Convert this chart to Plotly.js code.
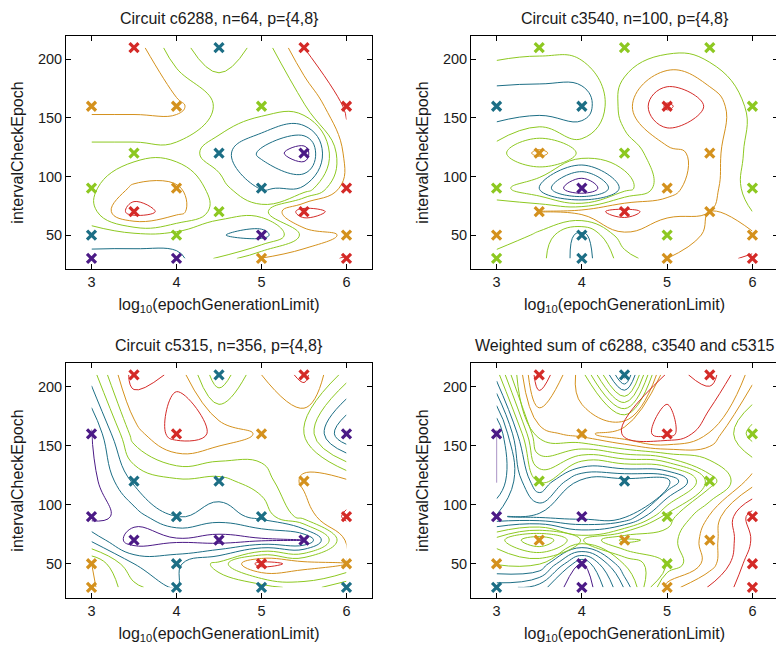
<!DOCTYPE html>
<html><head><meta charset="utf-8">
<script src="https://cdn.plot.ly/plotly-3.0.1.min.js"></script>
<style>html,body{margin:0;padding:0;overflow:hidden;background:#fff}#chart{width:780px;height:645px}</style>
</head><body><div id="chart"></div>
<script>
// grid of the fitted surface
const gridX = [3, 3.5, 4, 4.5, 5, 5.5, 6];
const gridY = [30, 50, 70, 90, 120, 160, 210];

// design points (markers)
const designX = [3,3,3,3, 3.5,3.5,3.5, 4,4,4,4, 4.5,4.5,4.5, 5,5,5,5, 5.5,5.5,5.5, 6,6,6,6];
const designY = [30,50,90,160, 70,120,210, 30,50,90,160, 70,120,210, 30,50,90,160, 70,120,210, 30,50,90,160];

const panelTitles = ["Circuit c6288, n=64, p={4,8}", "Circuit c3540, n=100, p={4,8}",
                     "Circuit c5315, n=356, p={4,8}", "Weighted sum of c6288, c3540 and c5315"];
const xTitle = "log<sub>10</sub>(epochGenerationLimit)";
const yTitle = "intervalCheckEpoch";
const xTicks = [3, 4, 5, 6];
const yTicks = [50, 100, 150, 200];

// marker classes: 1 purple, 2 teal, 3 green, 4 orange, 5 red
const classC6288 = [1,2,3,4, 5,3,5, 1,3,4,4, 3,2,2, 4,1,2,3, 5,1,5, 5,4,5,5];
const classC3540 = [3,4,3,2, 4,4,3, 2,2,1,2, 5,3,3, 4,3,4,5, 4,4,3, 5,4,3,3];
const classC5315 = [4,4,1,1, 1,2,5, 2,2,2,5, 1,2,2, 2,5,2,4, 1,4,5, 2,4,5,1];
const classSum   = [2,4,1,1, 4,3,5, 1,1,1,4, 4,2,2, 4,3,3,5, 4,3,5, 5,5,5,3];

// surface values, rows = gridY, cols = gridX
const surfC6288 = [
  [2.6, 2.5, 2.7, 4.2, 6.1, 6.5, 7.1],
  [3.6, 3.7, 3.6, 3.1, 2.5, 5.3, 6.2],
  [4.6, 7.6, 6.4, 4.5, 4.5, 7.6, 6.4],
  [4.8, 6.2, 6.2, 4.4, 2.9, 3.2, 6.6],
  [4.6, 4.6, 4.6, 3.5, 1.8, 0.3, 6.5],
  [6.3, 6.3, 6.3, 4.8, 4.6, 4.9, 7.2],
  [6.5, 6.6, 4.3, 3.4, 4.3, 7.0, 7.6]
];
const surfC3540 = [
  [4.5, 4.3, 2.5, 4.5, 6.0, 6.6, 7.2],
  [5.8, 4.8, 2.6, 5.8, 5.2, 6.2, 6.2],
  [5.5, 6.0, 6.5, 7.4, 6.3, 6.0, 5.0],
  [4.5, 3.0, -0.5, 3.5, 5.8, 6.4, 4.5],
  [4.6, 6.3, 4.8, 4.5, 5.6, 6.5, 4.6],
  [2.2, 2.2, 2.2, 5.5, 8.2, 6.8, 4.6],
  [4.5, 4.3, 4.5, 4.5, 4.6, 4.4, 4.3]
];
const surfC5315 = [
  [6.2, 4.3, 3.0, 3.5, 3.5, 4.5, 3.3],
  [6.1, 3.0, 2.8, 4.3, 7.5, 6.5, 6.0],
  [2.8, 0.4, 0.8, 0.5, 0.8, 0.8, 6.2],
  [0.6, 1.5, 3.1, 2.5, 3.3, 5.5, 7.2],
  [0.6, 3.2, 3.8, 3.7, 4.5, 6.2, 6.2],
  [0.8, 5.5, 7.5, 6.8, 5.8, 5.0, 0.8],
  [3.5, 7.5, 6.8, 3.2, 6.0, 7.3, 4.5]
];
const surfSum = [
  [2.5, 2.0, 0.7, 2.8, 6.0, 6.8, 7.6],
  [3.8, 3.8, 1.2, 3.8, 4.8, 6.0, 7.6],
  [4.5, 5.8, 4.2, 5.4, 5.0, 6.0, 7.3],
  [2.3, 2.1, 2.0, 2.1, 4.5, 5.8, 7.5],
  [1.2, 3.8, 2.1, 2.0, 2.1, 4.5, 6.0],
  [1.1, 5.5, 6.0, 6.8, 7.5, 6.2, 4.5],
  [3.5, 7.2, 5.5, 2.0, 7.0, 7.5, 6.0]
];

const palette = ["#4b1a86", "#1c6e85", "#8dc821", "#d4911d", "#d42a27"];
const scale = [[0, palette[0]], [0.125, palette[0]], [0.125, palette[1]], [0.375, palette[1]],
               [0.375, palette[2]], [0.625, palette[2]], [0.625, palette[3]], [0.75, palette[3]],
               [0.75, palette[4]], [1, palette[4]]];

const surfaces = [surfC6288, surfC3540, surfC5315, surfSum];
const classes = [classC6288, classC3540, classC5315, classSum];
const levelSteps = [1, 1, 1, 0.5];

const W = 780, H = 645;
const colDom = [[66 / W, 372 / W], [471 / W, 778 / W]];
const rowDom = [[(H - 269) / H, (H - 36) / H], [(H - 598) / H, (H - 363) / H]];

const traces = [];
const layout = {
  width: W, height: H, margin: {l: 0, r: 0, t: 0, b: 0},
  paper_bgcolor: "#fff", plot_bgcolor: "#fff", showlegend: false,
  font: {family: "Liberation Sans, Arial, sans-serif", color: "#1a1a1a"},
  annotations: []
};

for (let i = 0; i < 4; i++) {
  const sfx = i === 0 ? "" : String(i + 1);
  const xa = "x" + sfx, ya = "y" + sfx;
  const col = i % 2, row = Math.floor(i / 2);
  const st = levelSteps[i];
  traces.push({
    type: "contour", x: gridX, y: gridY, z: surfaces[i], xaxis: xa, yaxis: ya,
    zauto: false, zmin: 0.5, zmax: 8.5, colorscale: scale, showscale: false,
    autocontour: false,
    contours: {coloring: "lines", start: st === 1 ? 1 : 0.75, end: 8.25, size: st, showlabels: false},
    line: {width: 1, smoothing: 1.3}, hoverinfo: "skip"
  });
  const cols = classes[i].map(c => palette[c - 1]);
  traces.push({
    type: "scatter", mode: "markers", x: designX, y: designY, xaxis: xa, yaxis: ya,
    marker: {symbol: "x-thin", size: 9, color: cols, line: {width: 3.2, color: cols}},
    hoverinfo: "skip"
  });
  const axCommon = {
    showline: true, linecolor: "#000", linewidth: 1, mirror: "ticks",
    ticks: "inside", ticklen: 5, tickwidth: 1, tickcolor: "#000",
    showgrid: false, zeroline: false, tickfont: {size: 14.5, color: "#1a1a1a"}
  };
  layout["xaxis" + sfx] = Object.assign({}, axCommon, {
    domain: colDom[col], anchor: ya, range: [2.7, 6.3], tickvals: xTicks,
    title: {text: xTitle, font: {size: 16, color: "#1a1a1a"}, standoff: 9}
  });
  layout["yaxis" + sfx] = Object.assign({}, axCommon, {
    domain: rowDom[row], anchor: xa, range: [21, 220], tickvals: yTicks,
    title: {text: yTitle, font: {size: 16, color: "#1a1a1a"}, standoff: 10}
  });
  layout.annotations.push({
    text: panelTitles[i], xref: "paper", yref: "paper", showarrow: false,
    x: (colDom[col][0] + colDom[col][1]) / 2, y: rowDom[row][1],
    xanchor: "center", yanchor: "bottom", yshift: 7,
    font: {size: 16, color: "#1a1a1a"}
  });
}

Plotly.newPlot("chart", traces, layout, {displayModeBar: false, staticPlot: true});
</script>
</body></html>
